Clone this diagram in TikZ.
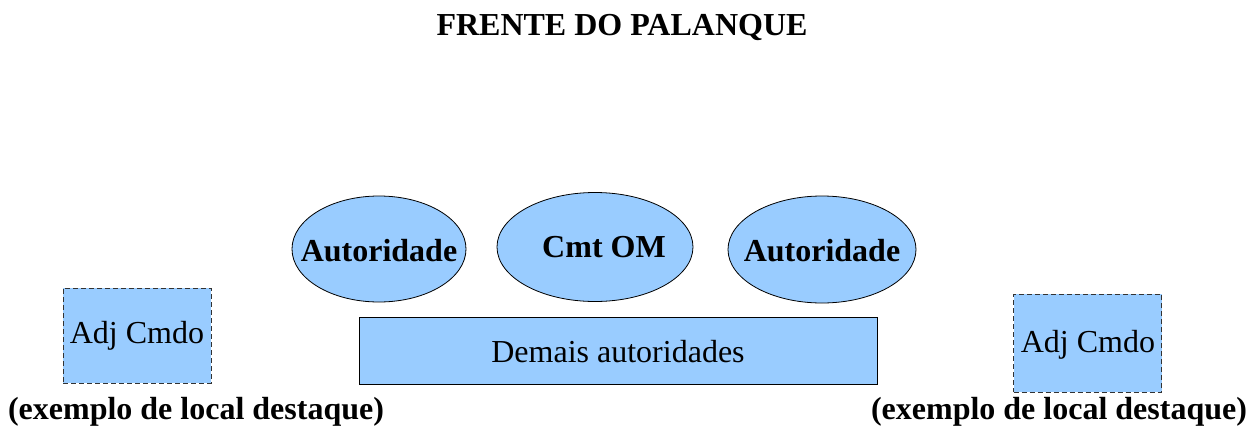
\documentclass[tikz,border=0pt]{standalone}
\usepackage{fontspec}
\setmainfont{Liberation Serif}
\usetikzlibrary{shapes.geometric}
\definecolor{fillblue}{HTML}{99CCFF}
\definecolor{dashgray}{HTML}{333333}
\begin{document}
\begin{tikzpicture}[x=1pt,y=-1pt,
  txt/.style={font=\fontsize{32}{36}\selectfont, inner sep=0pt},
  btxt/.style={font=\fontsize{32}{36}\selectfont\bfseries, inner sep=0pt},
  adjbox/.style={draw=dashgray, dash pattern=on 5pt off 3pt, fill=fillblue, line width=1pt, inner sep=0pt},
  solidbox/.style={draw=black, fill=fillblue, line width=0.8pt, inner sep=0pt},
  oval/.style={ellipse, draw=black, fill=fillblue, line width=0.8pt, inner sep=0pt}]
\useasboundingbox (0,0) rectangle (1254,426);
\node[btxt] (title) at (622,27) {FRENTE DO PALANQUE};
% ellipses
\node[oval, minimum width=174pt, minimum height=106pt] (autL) at (379,249) {};
\node[btxt] (autLt) at (379,251) {Autoridade};
\node[oval, minimum width=196pt, minimum height=109pt] (cmt) at (595,247) {};
\node[btxt] (cmtt) at (604,247) {Cmt OM};
\node[oval, minimum width=188pt, minimum height=107pt] (autR) at (822,249.5) {};
\node[btxt] (autRt) at (822,251) {Autoridade};
% demais
\node[solidbox, minimum width=518pt, minimum height=67pt] (dem) at (618,350.5) {};
\node[txt] (demt) at (618,352) {Demais autoridades};
% adj boxes
\node[adjbox, minimum width=148pt, minimum height=95pt] (adjL) at (137,335.5) {};
\node[txt] (adjLt) at (137,336) {Adj Cmdo};
\node[adjbox, minimum width=148pt, minimum height=98pt] (adjR) at (1087.5,343) {};
\node[txt] (adjRt) at (1088,345) {Adj Cmdo};
% labels
\node[btxt] (exL) at (196,412) {(exemplo de local destaque)};
\node[btxt] (exR) at (1059,412) {(exemplo de local destaque)};
\end{tikzpicture}
\end{document}
